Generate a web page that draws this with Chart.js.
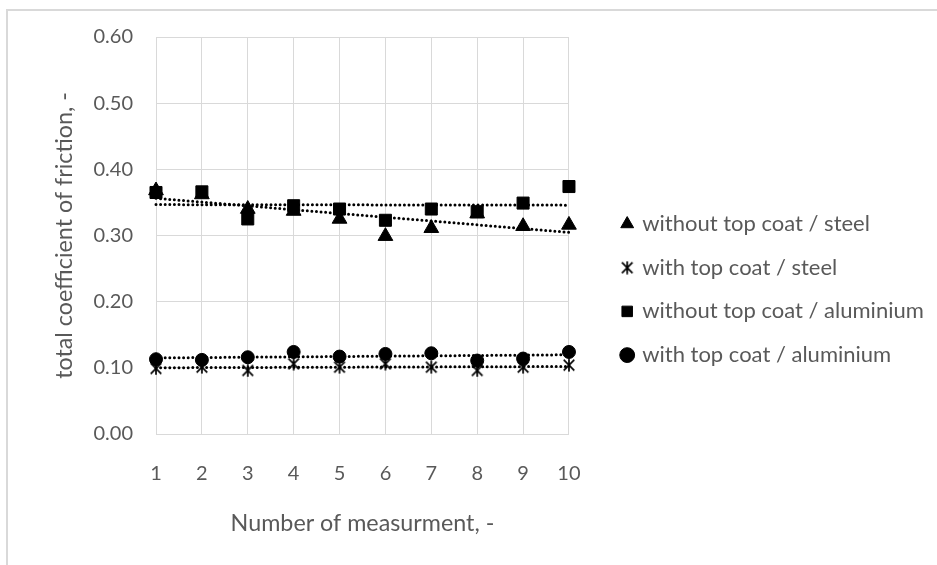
<!DOCTYPE html>
<html><head><meta charset="utf-8">
<script src="https://cdn.jsdelivr.net/npm/chart.js@4.4.1/dist/chart.umd.min.js"></script>
<style>html,body{margin:0;padding:0;background:#fff;}canvas{display:block;}</style>
</head><body>
<canvas id="c" width="937" height="565"></canvas>
<script>
// ---- data ----
const categories = ['1','2','3','4','5','6','7','8','9','10'];
const seriesLabels = ['without top coat / steel','with top coat / steel','without top coat / aluminium','with top coat / aluminium'];
const withoutTopCoatSteel = [0.368, 0.362, 0.340, 0.337, 0.325, 0.299, 0.311, 0.333, 0.314, 0.316];
const withTopCoatSteel    = [0.099, 0.101, 0.096, 0.106, 0.101, 0.106, 0.101, 0.096, 0.101, 0.104];
const withoutTopCoatAlu   = [0.365, 0.366, 0.325, 0.345, 0.340, 0.323, 0.340, 0.336, 0.349, 0.374];
const withTopCoatAlu      = [0.113, 0.112, 0.116, 0.124, 0.117, 0.121, 0.122, 0.111, 0.114, 0.124];
const yTickValues = [0, 0.1, 0.2, 0.3, 0.4, 0.5, 0.6];
const xTitle = 'Number of measurment, -';
const yTitle = 'total coefficient of friction, -';

// linear trendline (least squares), as in the original spreadsheet chart
function linearTrend(vals) {
  const n = vals.length;
  const xs = vals.map((_, i) => i + 1);
  const mx = xs.reduce((a, b) => a + b, 0) / n;
  const my = vals.reduce((a, b) => a + b, 0) / n;
  let sxy = 0, sxx = 0;
  for (let i = 0; i < n; i++) { sxy += (xs[i] - mx) * (vals[i] - my); sxx += (xs[i] - mx) ** 2; }
  const b = sxy / sxx, a = my - b * mx;
  return xs.map(x => a + b * x);
}

// asterisk marker (X with vertical bar)
function makeAsterisk(size, lw) {
  const c = document.createElement('canvas');
  c.width = size; c.height = size;
  const g = c.getContext('2d');
  const m = lw, s = size;
  g.strokeStyle = '#000'; g.lineWidth = lw; g.lineCap = 'butt';
  g.beginPath();
  g.moveTo(m, m); g.lineTo(s - m, s - m);
  g.moveTo(s - m, m); g.lineTo(m, s - m);
  g.moveTo(s / 2, 0.5); g.lineTo(s / 2, s - 0.5);
  g.stroke();
  return c;
}
const asterisk = makeAsterisk(14, 1.7);

const PLOT = { left: 156, right: 568.5, top: 37, bottom: 434 };
const LEGEND_POS = { left: 601.5, top: 191.3 };

Chart.defaults.font.family = 'Lato, "Open Sans", sans-serif';
Chart.defaults.color = '#595959';

const framePlugin = {
  id: 'frame',
  beforeDraw(chart) {
    const ctx = chart.ctx;
    ctx.save();
    ctx.fillStyle = '#fff';
    ctx.fillRect(0, 0, chart.width, chart.height);
    ctx.strokeStyle = '#d9d9d9';
    ctx.lineWidth = 2;
    ctx.strokeRect(7, 10, 2000, 2000);
    ctx.restore();
  }
};
const legendPlacer = {
  id: 'legendPlacer',
  afterLayout(chart) {
    const lg = chart.legend;
    if (!lg) return;
    lg.left = LEGEND_POS.left; lg.top = LEGEND_POS.top;
    lg.right = chart.width; lg.bottom = chart.height;
    lg.width = lg.right - lg.left; lg.height = lg.bottom - lg.top;
  }
};

function markerSet(label, data, style, radius) {
  return {
    label, data, showLine: false, clip: false,
    pointStyle: style, pointRadius: radius, pointHoverRadius: radius,
    backgroundColor: '#000', borderColor: '#000',
    pointBackgroundColor: '#000', pointBorderColor: '#000', pointBorderWidth: 1
  };
}
function trendSet(data) {
  return {
    label: 'trend', data, pointRadius: 0, clip: false,
    borderColor: '#000', borderWidth: 3, borderDash: [0, 4.6], borderCapStyle: 'round',
    fill: false, tension: 0
  };
}

const datasets = [
  markerSet(seriesLabels[0], withoutTopCoatSteel, 'triangle', 8.5),
  markerSet(seriesLabels[1], withTopCoatSteel, asterisk, 6),
  markerSet(seriesLabels[2], withoutTopCoatAlu, 'rect', 8.5),
  markerSet(seriesLabels[3], withTopCoatAlu, 'circle', 6.5),
  trendSet(linearTrend(withoutTopCoatSteel)),
  trendSet(linearTrend(withTopCoatSteel)),
  trendSet(linearTrend(withoutTopCoatAlu)),
  trendSet(linearTrend(withTopCoatAlu))
];

const chart = new Chart(document.getElementById('c'), {
  type: 'line',
  data: { labels: categories, datasets },
  plugins: [framePlugin, legendPlacer],
  options: {
    responsive: false, animation: false, devicePixelRatio: 1, events: [],
    layout: { padding: { left: 0, top: PLOT.top, bottom: 0, right: 20 } },
    plugins: {
      tooltip: { enabled: false },
      legend: {
        position: 'right', align: 'start',
        labels: {
          usePointStyle: true, boxWidth: 8, boxHeight: 10.5, padding: 21.7,
          font: { size: 22 }, color: '#595959',
          filter: (item) => item.datasetIndex < 4
        }
      }
    },
    scales: {
      x: {
        type: 'category', offset: false,
        grid: { color: '#d9d9d9', lineWidth: 1, drawTicks: false },
        border: { color: '#d9d9d9', width: 1 },
        ticks: { padding: 28, font: { size: 20 }, color: '#595959', maxRotation: 0, autoSkip: false },
        title: { display: true, text: xTitle, font: { size: 23.3 }, color: '#595959', padding: { top: 0, bottom: 28 } },
        afterFit(s) { s.height = 565 - PLOT.bottom; }
      },
      y: {
        min: 0, max: 0.6,
        afterBuildTicks(s) { s.ticks = yTickValues.map(v => ({ value: v })); },
        grid: { color: '#d9d9d9', lineWidth: 1, drawTicks: false },
        border: { color: '#d9d9d9', width: 1 },
        ticks: { padding: 23, font: { size: 20 }, color: '#595959', callback: v => Number(v).toFixed(2) },
        title: { display: true, text: yTitle, font: { size: 23.3 }, color: '#595959', padding: { top: 50, bottom: 0 } },
        afterFit(s) { s.width = PLOT.left; }
      }
    }
  }
});
// make the plot's right edge land where the reference has it
for (let k = 0; k < 4; k++) {
  const diff = chart.chartArea.right - PLOT.right;
  if (Math.abs(diff) < 0.25) break;
  const p = chart.config.options.layout.padding;
  chart.config.options.layout.padding = { left: p.left, top: p.top, bottom: p.bottom, right: p.right + diff };
  chart.update('none');
}
</script>
</body></html>
